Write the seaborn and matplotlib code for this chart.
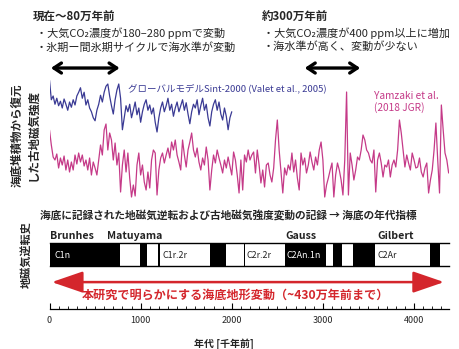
import numpy as np
import matplotlib
matplotlib.use("Agg")
import matplotlib.pyplot as plt
import seaborn as sns

# 古地磁気強度 (相対値) --- 画像から読み取り
blue_age = np.arange(0, 2001, 20)  # 千年前
blue_val = [9.3, 6.7, 7.2, 6.1, 6.9, 5.9, 6.5, 5.6, 6.8, 6.1,
            5.3, 6.4, 5.7, 6.7, 6.0, 7.2, 7.7, 8.3, 6.9, 7.7,
            6.0, 6.7, 5.6, 5.1, 4.3, 3.9, 5.3, 6.1, 7.3, 6.4,
            7.7, 8.5, 8.8, 7.2, 5.9, 4.8, 6.7, 8.0, 8.8, 6.9,
            2.7, 4.3, 5.9, 5.1, 6.1, 4.3, 5.3, 6.4, 4.7, 5.6,
            3.7, 5.1, 6.1, 6.7, 5.3, 6.0, 4.8, 5.6, 3.7, 2.4,
            4.3, 5.6, 6.4, 5.1, 5.9, 6.9, 5.3, 6.1, 4.5, 5.6,
            6.4, 5.1, 5.9, 6.7, 5.3, 6.3, 4.8, 3.5, 5.1, 6.1,
            5.6, 6.7, 4.7, 5.9, 6.9, 5.3, 6.1, 4.3, 3.2, 5.1,
            6.1, 6.7, 5.3, 6.4, 4.8, 4.0, 5.6, 4.5, 2.7, 4.3,
            5.1]

mag_age = np.arange(0, 4400, 20)
mag_val = [7.5, 6.0, 4.8, 4.5, 5.1, 3.7, 4.7, 4.0, 4.9, 3.5,
           4.5, 3.3, 4.3, 3.5, 5.0, 4.1, 5.2, 4.3, 5.0, 3.9,
           4.5, 3.5, 4.7, 3.0, 4.3, 3.7, 3.0, 4.5, 6.0, 5.0,
           7.5, 8.1, 5.5, 7.2, 6.5, 4.5, 6.2, 4.0, 5.2, 1.3,
           4.0, 5.5, 3.3, 5.2, 2.7, 0.8, 2.0, 0.9, 4.0, 5.2,
           3.0, 4.0, 2.3, 1.5, 3.3, 1.7, 4.5, 5.5, 5.2, 1.0,
           3.5, 4.7, 5.2, 4.2, 5.0, 5.7, 4.7, 6.3, 5.5, 6.5,
           5.0, 4.3, 3.5, 6.5, 5.0, 3.8, 5.5, 6.3, 7.2, 5.5,
           4.8, 5.7, 4.3, 3.5, 4.7, 4.0, 5.8, 4.5, 1.5, 3.5,
           5.0, 4.2, 5.5, 4.7, 4.0, 3.2, 4.5, 3.7, 4.8, 3.9,
           3.0, 5.3, 4.5, 3.0, 1.2, 4.5, 1.5, 5.0, 4.3, 5.5,
           4.5, 5.0, 5.3, 3.2, 5.5, 4.0, 2.2, 3.5, 1.8, 4.0,
           4.2, 3.0, 2.3, 3.7, 6.5, 8.5, 5.5, 3.3, 1.2, 3.7,
           3.0, 4.0, 3.5, 5.2, 3.3, 4.5, 2.7, 1.5, 5.2, 4.0,
           4.7, 3.2, 4.0, 5.3, 4.3, 3.5, 4.8, 4.0, 5.5, 6.3,
           4.5, 0.8, 2.0, 2.7, 3.5, 4.2, 0.8, 3.0, 4.2, 3.5,
           2.5, 1.0, 4.5, 11.3, 1.0, 5.2, 4.0, 2.5, 3.5, 4.8,
           4.5, 5.5, 7.0, 6.5, 5.5, 5.2, 4.5, 4.2, 5.5, 1.3,
           4.5, 5.2, 4.2, 2.8, 4.0, 3.8, 4.5, 2.8, 4.0, 4.5,
           3.8, 5.5, 8.5, 7.2, 5.5, 3.8, 5.0, 4.2, 3.5, 5.2,
           4.5, 3.7, 3.8, 4.7, 3.3, 2.8, 3.7, 4.2, 1.2, 2.5,
           3.5, 5.5, 8.2, 4.5, 1.2, 10.0, 7.5, 5.2, 4.5, 3.2]

# 地磁気極性 (正磁極 = 黒), 千年前
normal_start = [0, 990, 1195, 1765, 2130, 2581, 3110, 3330, 4175]
normal_end = [775, 1070, 1210, 1935, 2145, 3030, 3207, 3570, 4285]
chron_names = ["Brunhes", "Matuyama", "Gauss", "Gilbert"]
chron_pos = [10, 630, 2590, 3600]
sub_names = ["C1n", "C1r.2r", "C2r.2r", "C2An.1n", "C2Ar"]
sub_pos = [50, 1235, 2167, 2606, 3594]
sub_white = [True, False, False, True, False]

BLUE = "#3a3a94"
MAG = "#c53a88"
RED = "#d4262c"

sns.set_theme(style="white")
plt.rcParams["font.family"] = ["Noto Sans CJK JP", "DejaVu Sans"]

W, H = 459, 349
fig = plt.figure(figsize=(W / 100, H / 100), dpi=100)


def box(x0, y0, x1, y1):
    return [x0 / W, 1 - y1 / H, (x1 - x0) / W, (y1 - y0) / H]


XL, XR = 49.5, 449
xmax = (XR - XL) / 0.09113

ax_b = fig.add_axes(box(XL, 75, XR, 150))
ax_m = fig.add_axes(box(XL, 85, XR, 205))
ax_pol = fig.add_axes(box(XL, 243, XR, 266))
ax_t = fig.add_axes(box(XL, 308.5, XR, 309))

sns.lineplot(x=mag_age, y=mag_val, ax=ax_m, color=MAG, linewidth=0.9)
sns.lineplot(x=blue_age, y=blue_val, ax=ax_b, color=BLUE, linewidth=0.9)
ax_b.set_ylim(0, 10)
ax_m.set_ylim(0, 12)
for ax in (ax_b, ax_m):
    ax.patch.set_alpha(0)
    ax.set_xlim(0, xmax)
    ax.axis("off")

ax_b.text(860, 8.2, "グローバルモデルSint-2000 (Valet et al., 2005)",
          color=BLUE, fontsize=6.8, va="center")
ax_m.text(3560, 10.3, "Yamzaki et al.\n(2018 JGR)", color=MAG,
          fontsize=7.3, va="center", linespacing=1.05)

# 期間を示す矢印
for a, b in [(-15, 800), (2770, 3440)]:
    ax_b.annotate("", xy=(a, 1.093), xytext=(b, 1.093),
                  xycoords=("data", "axes fraction"),
                  textcoords=("data", "axes fraction"),
                  arrowprops=dict(arrowstyle="<->,head_length=0.45,head_width=0.3",
                                  color="black", lw=2.4),
                  annotation_clip=False)

# 極性年代
ax_pol.set_xlim(0, xmax)
ax_pol.set_ylim(0, 1)
for s, e in zip(normal_start, normal_end):
    ax_pol.axvspan(s, e, color="black", lw=0)
ax_pol.set_xticks([])
ax_pol.set_yticks([])
for side in ("left", "right"):
    ax_pol.spines[side].set_visible(False)
for side in ("top", "bottom"):
    ax_pol.spines[side].set_color("black")
    ax_pol.spines[side].set_linewidth(1.0)
for name, x in zip(chron_names, chron_pos):
    ax_pol.text(x, 1.3, name, fontsize=7.6, fontweight="bold",
                va="center", ha="left", color="#222222")
for name, x, wh in zip(sub_names, sub_pos, sub_white):
    ax_pol.text(x, 0.46, name, fontsize=6.4, va="center", ha="left",
                color="white" if wh else "#222222")

ax_pol.annotate("", xy=(-5, -0.7), xytext=(4360, -0.7),
                xycoords=("data", "axes fraction"),
                textcoords=("data", "axes fraction"),
                arrowprops=dict(arrowstyle="<|-|>,head_length=1.6,head_width=0.55",
                                color=RED, lw=1.8),
                annotation_clip=False)

# 時間軸
ax_t.set_xlim(0, xmax)
ax_t.set_yticks([])
for side in ("left", "right", "top"):
    ax_t.spines[side].set_visible(False)
ax_t.spines["bottom"].set_color("black")
ax_t.spines["bottom"].set_linewidth(0.9)
ax_t.set_xticks(np.arange(0, 4001, 1000))
ax_t.set_xticks(np.arange(0, 4400, 100), minor=True)
ax_t.tick_params(axis="x", which="major", direction="in", length=4.5,
                 width=0.8, labelsize=6.5, pad=5, color="black",
                 bottom=True)
ax_t.tick_params(axis="x", which="minor", direction="in", length=2.5,
                 width=0.6, color="black", bottom=True)
ax_t.patch.set_alpha(0)


# テキスト
def ft(x, y, s, **kw):
    fig.text(x / W, 1 - y / H, s, **kw)


ft(33, 17, "現在〜80万年前", fontsize=8.3, fontweight="bold", va="center")
ft(36, 33, "・大気CO₂濃度が180–280 ppmで変動", fontsize=8.0, va="center")
ft(36, 47, "・氷期ー間氷期サイクルで海水準が変動", fontsize=8.0, va="center")
ft(262, 17, "約300万年前", fontsize=8.3, fontweight="bold", va="center")
ft(263, 33, "・大気CO₂濃度が400 ppm以上に増加", fontsize=8.0, va="center")
ft(263, 47, "・海水準が高く、変動が少ない", fontsize=8.0, va="center")

ft(25, 135, "海底堆積物から復元\nした古地磁気強度", fontsize=8.3,
   fontweight="bold", rotation=90, ha="center", va="center",
   multialignment="center", linespacing=1.25)
ft(26, 255, "地磁気逆転史", fontsize=8.0, fontweight="bold", rotation=90,
   ha="center", va="center")
ft(40, 215, "海底に記録された地磁気逆転および古地磁気強度変動の記録 → 海底の年代指標",
   fontsize=7.7, fontweight="bold", va="center")
ft(82, 295, "本研究で明らかにする海底地形変動（~430万年前まで）",
   fontsize=8.7, fontweight="bold", color=RED, va="center")
ft(224, 344, "年代 [千年前]", fontsize=7.2, fontweight="bold",
   ha="center", va="center")

fig.savefig("out.png", dpi=100)
